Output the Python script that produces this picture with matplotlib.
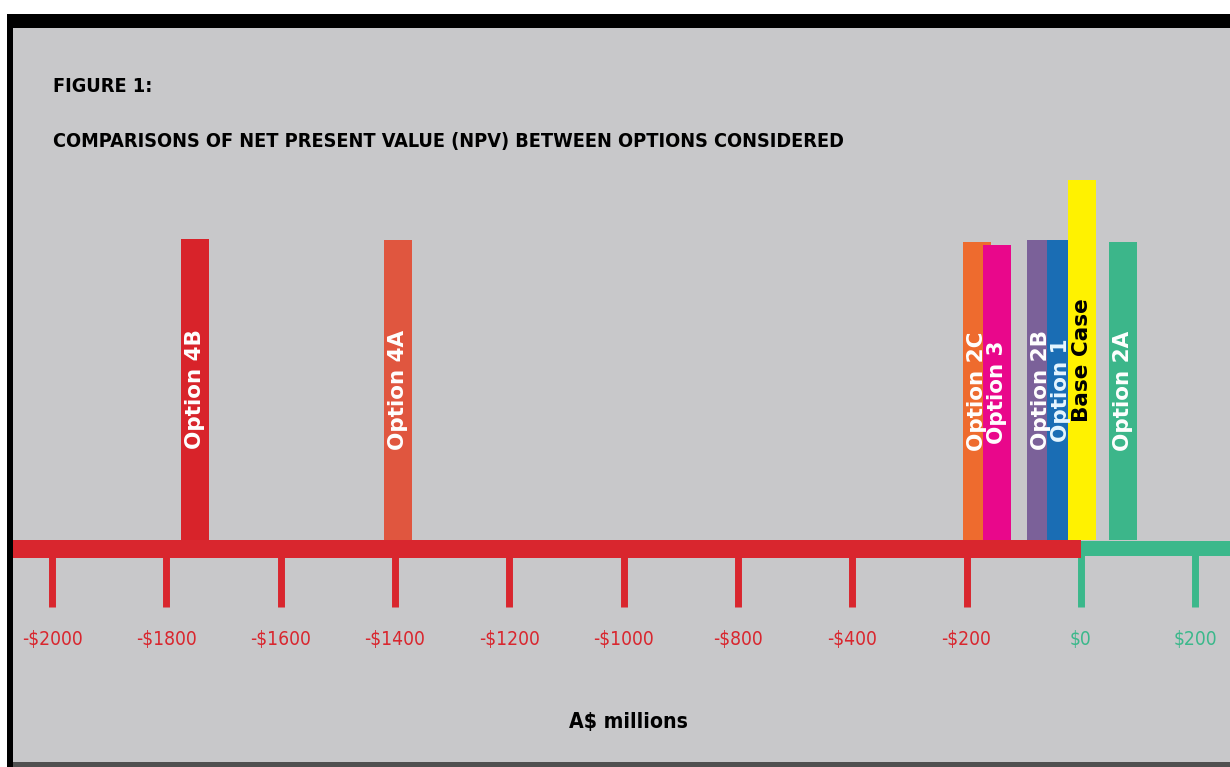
import numpy as np
import matplotlib
matplotlib.use("Agg")
import matplotlib.pyplot as plt
from matplotlib.patches import Rectangle

# data
options = ["Option 4B", "Option 4A", "Option 2C", "Option 3",
           "Option 2B", "Option 1", "Base Case", "Option 2A"]
npv = [-1750, -1395, -181, -146, -69, -34, 2, 74]          # A$ millions, per the axis labels
bar_heights = [301, 300, 298, 295, 300, 300, 360, 298]
bar_colors = ["#d8232a", "#e0563f", "#ee6b2e", "#e9078b",
              "#7b6199", "#1a6db4", "#fff200", "#3cb68a"]
label_colors = ["white", "white", "white", "white", "white", "#e6f6ff", "black", "white"]

tick_values = [-2000, -1800, -1600, -1400, -1200, -1000, -800, -400, -200, 0, 200]
tick_labels = ["-$2000", "-$1800", "-$1600", "-$1400", "-$1200", "-$1000",
               "-$800", "-$400", "-$200", "$0", "$200"]

RED = "#d9262e"
GREEN = "#3bb88b"
BG = "#c8c8ca"
NARROW = ["Liberation Sans Narrow", "DejaVu Sans"]

# the axis in the original is evenly spaced between its labels (it skips -$600)
scale_vals = np.array([-2200] + tick_values + [400], dtype=float)
scale_idx = np.arange(-1, len(tick_values) + 1, dtype=float)


def fwd(v):
    return np.interp(v, scale_vals, scale_idx)


def inv(p):
    return np.interp(p, scale_idx, scale_vals)


def fit_width(txt, target_px):
    # shrink a text until it is as wide as in the scan
    r = fig.canvas.get_renderer()
    w = txt.get_window_extent(renderer=r).width
    txt.set_fontsize(txt.get_fontsize() * target_px / w)


W, H = 1230, 767
fig = plt.figure(figsize=(W / 100, H / 100), dpi=100, facecolor=BG)
ax = fig.add_axes([0, 0, 1, 1])
ax.set_xscale("function", functions=(fwd, inv))
ax.set_xlim(-2091, 261)
ax.set_ylim(0, H)
ax.axis("off")

# axis band: red below zero, green above
base = 227
ax.fill_between([-2091, 0], base - 18, base, color=RED, lw=0, zorder=2)
ax.fill_between([0, 261], base - 16, base - 1, color=GREEN, lw=0, zorder=2)

# ticks and labels
tick_texts = []
for v, lab in zip(tick_values, tick_labels):
    c = GREEN if v >= 0 else RED
    ax.vlines(v, 160, base - 10, color=c, lw=5, zorder=1)
    t = ax.text(v, 127, lab, color=c, fontsize=16, family=NARROW,
                fontstretch="condensed", ha="center", va="center")
    tick_texts.append(t)
fit_width(tick_texts[0], 62)
for t in tick_texts[1:]:
    t.set_fontsize(tick_texts[0].get_fontsize())

# bars
for name, v, h, col, tc in zip(options, npv, bar_heights, bar_colors, label_colors):
    ax.bar(v, h, width=49, bottom=base, color=col, lw=0, zorder=3)
    ax.text(v, base + h / 2, name, rotation=90, color=tc, fontsize=15.5,
            fontweight="bold", family="DejaVu Sans", ha="center", va="center",
            zorder=4)

xlab = fig.text(628 / W, 1 - 722 / H, "A$ millions", fontsize=18, fontweight="bold",
                family=NARROW, fontstretch="condensed", ha="center", va="center")
fit_width(xlab, 118)

t1 = fig.text(53 / W, 1 - 86 / H, "FIGURE 1:", fontsize=18, fontweight="bold",
              family=NARROW, fontstretch="condensed", ha="left", va="center")
fit_width(t1, 99)
t2 = fig.text(53 / W, 1 - 141 / H,
              "COMPARISONS OF NET PRESENT VALUE (NPV) BETWEEN OPTIONS CONSIDERED",
              fontsize=17, fontweight="bold", family=NARROW, fontstretch="condensed",
              ha="left", va="center")
fit_width(t2, 792)

# frame of the scanned figure
fig.add_artist(Rectangle((0, 1 - 14 / H), 1, 14 / H, transform=fig.transFigure,
                         color="white", lw=0))
fig.add_artist(Rectangle((0, 1 - 28 / H), 1, 14 / H, transform=fig.transFigure,
                         color="black", lw=0))
fig.add_artist(Rectangle((0, 0), 7 / W, 1, transform=fig.transFigure,
                         color="white", lw=0))
fig.add_artist(Rectangle((7 / W, 0), 6 / W, 1 - 14 / H, transform=fig.transFigure,
                         color="black", lw=0))
fig.add_artist(Rectangle((13 / W, 0), 1, 5 / H, transform=fig.transFigure,
                         color="#505050", lw=0))

fig.savefig("out.png", dpi=100, facecolor=BG)
